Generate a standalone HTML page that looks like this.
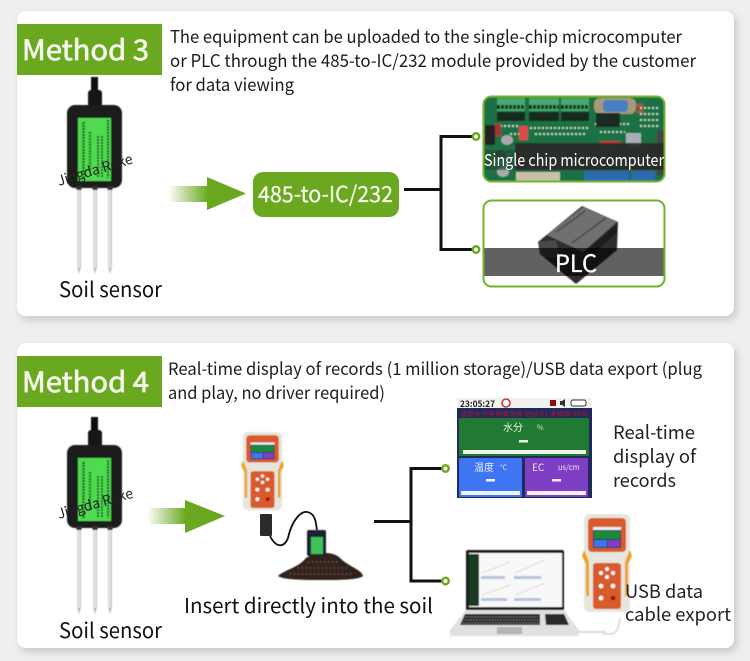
<!DOCTYPE html>
<html><head><meta charset="utf-8"><style>
html,body{margin:0;padding:0;background:#efefef}
svg{display:block}
text{font-family:"Noto Sans CJK SC","Liberation Sans",sans-serif}
</style></head><body>
<svg width="750" height="661" viewBox="0 0 750 661" xmlns="http://www.w3.org/2000/svg">
<defs>
<filter id="sh" x="-5%" y="-5%" width="110%" height="115%"><feDropShadow dx="3" dy="4" stdDeviation="4" flood-color="#000" flood-opacity=".16"/></filter>
<filter id="soft" x="-5%" y="-5%" width="110%" height="110%"><feGaussianBlur stdDeviation=".5"/></filter>
<linearGradient id="ar1" x1="0" x2="1" y1="0" y2="0"><stop offset="0" stop-color="#6aa820" stop-opacity="0"/><stop offset="1" stop-color="#6aa820"/></linearGradient>
<linearGradient id="pin" x1="0" x2="1" y1="0" y2="0"><stop offset="0" stop-color="#c4c4c4"/><stop offset=".5" stop-color="#f2f2f2"/><stop offset="1" stop-color="#a8a8a8"/></linearGradient>
<clipPath id="c1"><rect x="484" y="97" width="180" height="84" rx="8"/></clipPath>
<clipPath id="c2"><rect x="484" y="201" width="180" height="85" rx="8"/></clipPath>
<g id="sensor" filter="url(#soft)">
<rect x="91" y="77" width="7" height="14" fill="#111"/>
<rect x="88" y="90" width="14" height="17" rx="3" fill="#161616"/>
<rect x="67" y="105" width="55" height="83" rx="8" fill="#1c1c1c"/>
<rect x="78" y="118" width="33" height="63" fill="#4fdb50"/>
<g fill="none" stroke="#1b5c22" stroke-dasharray="2 1">
<path d="M83.500 122V178" stroke-width="2.500"/><path d="M90 132V170" stroke-width="2.500" opacity=".8"/>
<path d="M98 136V178M102 136V178" stroke-width="2"/><path d="M108 120V178" stroke-width="2.200"/>
</g>
<rect x="77.200" y="188" width="3.600" height="80" fill="url(#pin)"/><path d="M77.200 268h3.600l-1.800 6z" fill="#bbb"/>
<rect x="93.200" y="188" width="3.600" height="80" fill="url(#pin)"/><path d="M93.200 268h3.600l-1.800 6z" fill="#bbb"/>
<rect x="108.200" y="188" width="3.600" height="80" fill="url(#pin)"/><path d="M108.200 268h3.600l-1.800 6z" fill="#bbb"/>
<rect x="76.500" y="186" width="5" height="4" fill="#333"/><rect x="92.500" y="186" width="5" height="4" fill="#333"/><rect x="107.500" y="186" width="5" height="4" fill="#333"/>
</g>
<g id="meter" filter="url(#soft)">
<rect x="1" y="0" width="46" height="98" rx="6" fill="#e6e6de"/>
<path d="M1 36L-1 42 3 50V82H6V48L3 40zM47 36L49 42 45 50V82H42V48L45 40z" fill="#f0a020"/>
<rect x="5" y="4" width="38" height="34" rx="4" fill="#d95a2b"/>
<rect x="10" y="13" width="28" height="21" fill="#21305f"/><rect x="10" y="13" width="28" height="3" fill="#eee"/><rect x="11" y="17" width="26" height="8" fill="#1f8a3a"/><rect x="11" y="26" width="13" height="7" fill="#3f74f2"/><rect x="25" y="26" width="12" height="7" fill="#7f3fc4"/>
<rect x="10" y="49" width="28" height="46" rx="3" fill="#d95a2b"/>
<g fill="#fff"><circle cx="24" cy="55" r="2"/><circle cx="18" cy="59" r="2"/><circle cx="30" cy="59" r="2"/><circle cx="24" cy="63" r="2"/><circle cx="18" cy="72" r="2.300"/><circle cx="30" cy="72" r="2.300"/><circle cx="18" cy="84" r="2.300"/></g><circle cx="30" cy="84" r="2.300" fill="#911"/>
</g>
</defs>

<rect width="750" height="661" fill="#efefef"/>
<rect x="17" y="11" width="717" height="305" rx="9" fill="#fff" filter="url(#sh)"/>
<rect x="17" y="343" width="717" height="305" rx="9" fill="#fff" filter="url(#sh)"/>

<!-- Method 3 -->
<rect x="17" y="24" width="145" height="51" fill="#6aa820"/>
<text x="22" y="60" font-size="28" fill="#f4f8ea" stroke="#f4f8ea" stroke-width=".7" textLength="127" lengthAdjust="spacingAndGlyphs">Method 3</text>
<g font-size="17.500" fill="#1c1c1c">
<text x="170" y="43" textLength="512" lengthAdjust="spacingAndGlyphs">The equipment can be uploaded to the single-chip microcomputer</text>
<text x="170" y="67" textLength="526" lengthAdjust="spacingAndGlyphs">or PLC through the 485-to-IC/232 module provided by the customer</text>
<text x="170" y="91" textLength="124" lengthAdjust="spacingAndGlyphs">for data viewing</text>
</g>
<use href="#sensor"/>
<text font-size="14" fill="#222" transform="translate(59 186) rotate(-17)" textLength="78" lengthAdjust="spacingAndGlyphs">Jingda Reke</text>
<text x="59" y="297" font-size="21" fill="#111" textLength="103" lengthAdjust="spacingAndGlyphs">Soil sensor</text>

<rect x="168" y="186" width="40" height="16" fill="url(#ar1)"/>
<path d="M207 177L246 193.500 207 210z" fill="#6aa820"/>
<rect x="253" y="172" width="146" height="45" rx="10" fill="#6aa820"/>
<text x="258" y="202" font-size="22" fill="#f6f9ee" stroke="#f6f9ee" stroke-width=".25" textLength="135" lengthAdjust="spacingAndGlyphs">485-to-IC/232</text>

<path d="M404 189.500H441M472 136.500H441V249.500H472" fill="none" stroke="#111" stroke-width="3"/>
<circle cx="476" cy="136.500" r="3.200" fill="#fff" stroke="#6aa820" stroke-width="2.500"/>
<circle cx="476" cy="249.500" r="3.200" fill="#fff" stroke="#6aa820" stroke-width="2.500"/>

<!-- PCB -->
<g clip-path="url(#c1)" filter="url(#soft)">
<rect x="484" y="97" width="180" height="84" fill="#1f7044"/>
<g fill="#4aa86a"><rect x="497" y="98" width="28" height="13"/><rect x="529" y="98" width="30" height="13"/><rect x="561" y="98" width="28" height="13"/></g>
<g fill="none" stroke="#173322" stroke-width="4" stroke-dasharray="3 1"><path d="M497 107h28M529 107h30M561 107h28"/></g>
<g fill="#14291c"><rect x="497" y="112" width="28" height="9"/><rect x="529" y="112" width="30" height="9"/><rect x="561" y="112" width="28" height="9"/></g>
<rect x="594" y="98" width="42" height="16" rx="6" fill="#a89878"/><rect x="603" y="100" width="25" height="12" rx="4" fill="#4a7fc0"/>
<g fill="none" stroke="#b8d8bc" stroke-dasharray="2 2" stroke-width="2"><path d="M530 128h60M535 134h52M500 126h20M595 124h35M600 132h25M640 108h20M640 114h20M640 120h20M640 126h20M510 134h15"/></g>
<g fill="#d03a3a"><rect x="640" y="106" width="0" height="0"/><rect x="637" y="104" width="6" height="3"/><rect x="637" y="110" width="6" height="3"/></g>
<rect x="519" y="126" width="9" height="14" fill="#dd4a4a"/><rect x="495" y="124" width="6" height="12" fill="#a33"/>
<rect x="596" y="113" width="24" height="14" fill="#1c2c24"/><rect x="626" y="133" width="15" height="14" fill="#a8aeb8"/>
<rect x="600" y="141" width="20" height="3" fill="#c33"/>
<ellipse cx="507" cy="140" rx="6" ry="5" fill="#aaa"/><ellipse cx="503" cy="172" rx="6" ry="5" fill="#aaa"/><ellipse cx="500" cy="155" rx="6" ry="5" fill="#333"/>
<rect x="485" y="125" width="10" height="20" fill="#222"/>
<rect x="657" y="130" width="8" height="45" fill="#444"/>
<rect x="516" y="172" width="44" height="9" fill="#c9c0a8"/>
<g fill="#2d68b0"><rect x="584" y="171" width="24" height="10"/><rect x="607" y="171" width="22" height="10"/><rect x="631" y="171" width="24" height="10"/></g>
<rect x="515" y="143" width="150" height="27" fill="#2b2a2a" opacity=".93"/>
<rect x="484" y="150" width="31" height="20" fill="#2a4a36" opacity=".7"/>
</g>
<rect x="483.500" y="96.500" width="181" height="85" rx="8" fill="none" stroke="#6fb32b" stroke-width="2"/>
<text x="484" y="166" font-size="16.500" fill="#fff" textLength="180" lengthAdjust="spacingAndGlyphs">Single chip microcomputer</text>

<!-- PLC -->
<g clip-path="url(#c2)">
<rect x="484" y="201" width="180" height="85" fill="#fff"/>
<g filter="url(#soft)">
<path d="M538 242L582 206 618 222 617 250 576 284 540 254z" fill="#2e2e2e"/>
<path d="M547 235L583 207 617 222 583 252z" fill="#707070"/>
<path d="M556 232L585 211M572 243L606 218" stroke="#4a4a4a" stroke-width="1.500" fill="none"/>
<path d="M538 242L556 240 560 258 542 256z" fill="#4a4a4a"/>
<path d="M584 252L617 224 617 232 586 262z" fill="#1c1c1c"/>
</g>
<rect x="484" y="248" width="180" height="28" fill="#000" opacity=".62"/>
</g>
<rect x="483.500" y="200.500" width="181" height="86" rx="8" fill="none" stroke="#6fb32b" stroke-width="2"/>
<text x="555" y="272" font-size="24" fill="#fff" stroke="#fff" stroke-width=".3" textLength="42" lengthAdjust="spacingAndGlyphs">PLC</text>

<!-- Method 4 -->
<rect x="17" y="356" width="145" height="51" fill="#6aa820"/>
<text x="22" y="392" font-size="28" fill="#f4f8ea" stroke="#f4f8ea" stroke-width=".7" textLength="127" lengthAdjust="spacingAndGlyphs">Method 4</text>
<g font-size="17" fill="#1c1c1c">
<text x="168" y="375" textLength="534" lengthAdjust="spacingAndGlyphs">Real-time display of records (1 million storage)/USB data export (plug</text>
<text x="168" y="399" textLength="217" lengthAdjust="spacingAndGlyphs">and play, no driver required)</text>
</g>
<use href="#sensor" y="340"/>
<text font-size="14" fill="#222" transform="translate(59 519) rotate(-16)" textLength="78" lengthAdjust="spacingAndGlyphs">Jingda Reke</text>
<text x="59" y="638" font-size="21" fill="#111" textLength="103" lengthAdjust="spacingAndGlyphs">Soil sensor</text>

<rect x="147" y="508" width="39" height="16" fill="url(#ar1)"/>
<path d="M185 500L225 516 185 533z" fill="#6aa820"/>

<use href="#meter" transform="translate(242 432) scale(.855 .8)"/>
<rect x="260" y="514" width="12" height="22" rx="1" fill="#2a2a2a"/>
<path d="M270 536C276 548 284 548 288 538 292 520 302 508 310 513 316 516 316 525 317 530" fill="none" stroke="#111" stroke-width="1.800"/>
<g filter="url(#soft)">
<path d="M278 576C284 570 298 568 306 558 314 553 332 550 340 558 348 566 362 570 363 576 358 580 340 580 322 580 304 580 284 580 278 576z" fill="#33241d"/>
<path d="M290 574h62M298 568h50M308 562h32" stroke="#6e5548" stroke-width="2" stroke-dasharray="1 3" fill="none"/>
<rect x="307" y="530" width="19" height="26" rx="2" fill="#1b2230"/>
<rect x="311" y="537" width="12" height="17" fill="#3fc25a"/>
</g>
<text x="184" y="613" font-size="20.500" fill="#111" textLength="249" lengthAdjust="spacingAndGlyphs">Insert directly into the soil</text>

<path d="M374 521.500H411M442 468.500H411V581H442" fill="none" stroke="#111" stroke-width="3"/>
<circle cx="445.500" cy="468.500" r="3.200" fill="#fff" stroke="#6aa820" stroke-width="2.500"/>
<circle cx="445.500" cy="581" r="3.200" fill="#fff" stroke="#6aa820" stroke-width="2.500"/>

<!-- Screen -->
<rect x="457" y="398" width="135" height="11" fill="#f1f1ee"/>
<text x="460" y="407" font-size="8.500" font-weight="700" fill="#222" textLength="35" lengthAdjust="spacingAndGlyphs">23:05:27</text>
<circle cx="506" cy="403" r="4" fill="#fff" stroke="#c33" stroke-width="1.500"/>
<rect x="550" y="400" width="6" height="6" fill="#8a1010"/>
<path d="M560 401h2l3-2v8l-3-2h-2z" fill="#333"/>
<rect x="571" y="400" width="15" height="6" rx="2" fill="#fff" stroke="#333"/>
<rect x="457" y="408" width="135" height="90" fill="#1d2c5c"/>
<text x="460" y="416" font-size="6.500" fill="#b0182a" textLength="128" lengthAdjust="spacingAndGlyphs">温度水分电导率测传 地址:01 波特率:4800</text>
<rect x="459" y="418" width="130" height="38" rx="1" fill="#207a32"/>
<text x="503" y="431" font-size="10" fill="#e8f4e0" textLength="20">水分</text>
<text x="537" y="430" font-size="7" fill="#cfe8c8">%</text>
<rect x="519" y="440" width="9" height="2.500" fill="#eef5e8"/>
<rect x="463" y="450" width="123" height="4" fill="#eef3e8"/>
<rect x="459" y="458" width="63" height="39" rx="1" fill="#3f74f2"/>
<rect x="525" y="458" width="63" height="39" rx="1" fill="#7f3fc4"/>
<text x="474" y="471" font-size="10" fill="#e8eeff" textLength="20">温度</text>
<text x="500" y="470" font-size="7" fill="#dfe8ff">°C</text>
<text x="532" y="471" font-size="10" fill="#f0e4ff">EC</text>
<text x="558" y="470" font-size="7.500" fill="#f0e4ff">us/cm</text>
<rect x="486" y="479" width="9" height="2.500" fill="#f0f4ff"/><rect x="552" y="479" width="9" height="2.500" fill="#f5eeff"/>
<rect x="461" y="491" width="59" height="4" fill="#eef2ff"/><rect x="527" y="491" width="59" height="4" fill="#f5eeff"/>

<g font-size="18.500" fill="#222">
<text x="613" y="439" textLength="82" lengthAdjust="spacingAndGlyphs">Real-time</text>
<text x="613" y="463" textLength="83" lengthAdjust="spacingAndGlyphs">display of</text>
<text x="613" y="487" textLength="63" lengthAdjust="spacingAndGlyphs">records</text>
</g>

<!-- Laptop -->
<g filter="url(#soft)">
<path d="M603 634H612C618 632 619 626 620 618" fill="none" stroke="#ddd" stroke-width="2"/>
<path d="M578 632H606" fill="none" stroke="#ddd" stroke-width="2"/>
<path d="M466 552a2 2 0 0 1 2-2H562a2 2 0 0 1 2 2v58H466z" fill="#1c1c1c"/>
<rect x="469" y="553" width="93" height="54" fill="#f8f8f8"/>
<rect x="469" y="554" width="10" height="52" fill="#143a24"/>
<g fill="#b8c4dc"><rect x="481" y="576" width="24" height="3"/><rect x="514" y="576" width="27" height="3"/><rect x="481" y="598" width="26" height="3"/><rect x="514" y="598" width="27" height="3"/></g>
<path d="M482 573L510 562M515 573L545 560M482 595L510 585M515 595L545 583" stroke="#dde0c8" fill="none"/>
<path d="M466 610H564L579 630V636H450V630z" fill="#e0e0e0"/>
<path d="M465 614H540V625H460z" fill="#2a2a2a"/>
<path d="M465 617H538M464 620H539M462 623H539" stroke="#888" stroke-dasharray="2 1" fill="none" stroke-width=".8"/>
<path d="M545 614H564L569 625H546z" fill="#2a2a2a"/>
<rect x="497" y="627" width="25" height="7" fill="#b4b4b4"/>
</g>
<use href="#meter" x="583" y="514"/>

<g font-size="18.500" fill="#222">
<text x="625" y="598" textLength="78" lengthAdjust="spacingAndGlyphs">USB data</text>
<text x="625" y="621" textLength="106" lengthAdjust="spacingAndGlyphs">cable export</text>
</g>
</svg>
</body></html>
